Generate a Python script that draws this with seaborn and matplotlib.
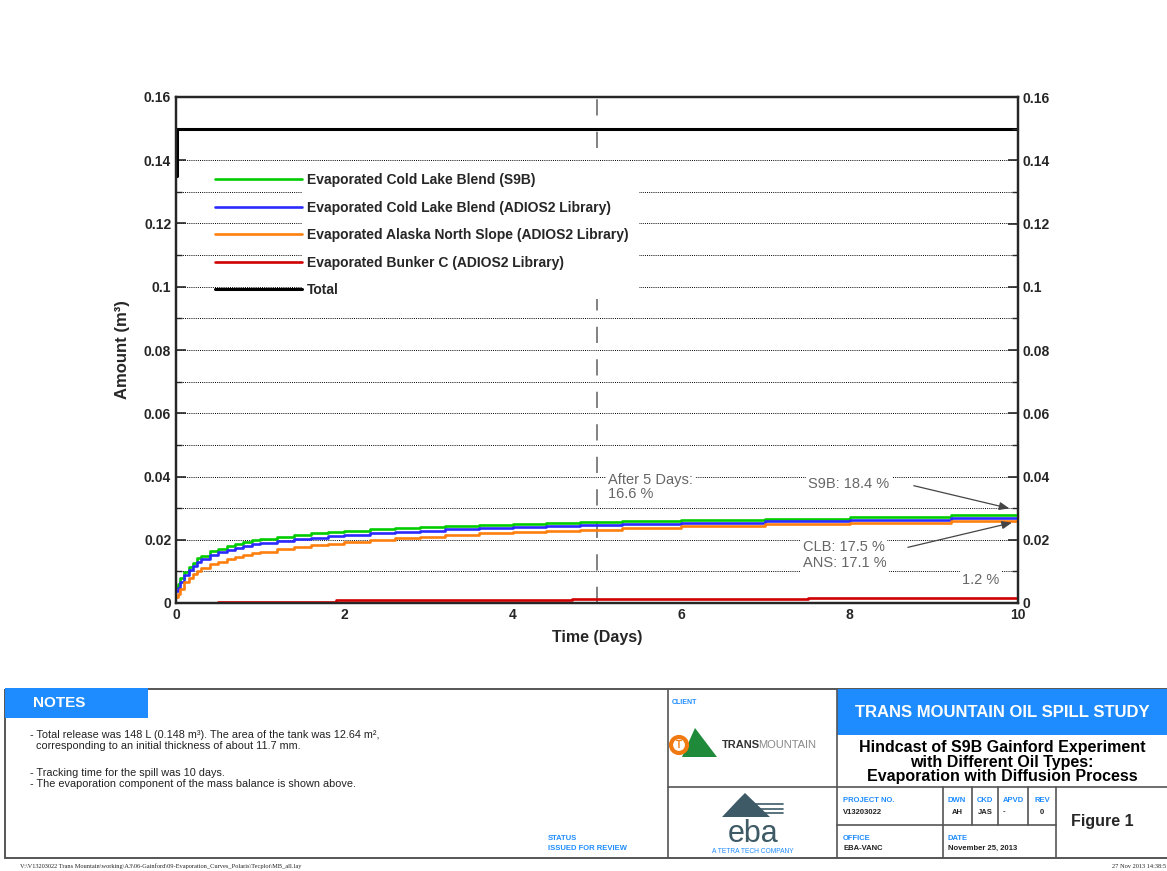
import numpy as np
import pandas as pd
import matplotlib
matplotlib.use("Agg")
import matplotlib.pyplot as plt
import seaborn as sns
from matplotlib.patches import Rectangle, Polygon, Circle
from matplotlib.ticker import FuncFormatter, MultipleLocator

# ---- data (m^3 vs days) ----
time_days = [0, 0.02, 0.05, 0.1, 0.15, 0.2, 0.25, 0.3, 0.4, 0.5, 0.6, 0.7, 0.8,
             0.9, 1.0, 1.2, 1.4, 1.6, 1.8, 2.0, 2.3, 2.6, 2.9, 3.2, 3.6, 4.0,
             4.4, 4.8, 5.3, 6.0, 7.0, 8.0, 9.2, 10.0]
clb_s9b = [0.005, 0.006, 0.0078, 0.0098, 0.0115, 0.0128, 0.0142, 0.015, 0.0163,
           0.0172, 0.018, 0.0187, 0.0193, 0.0198, 0.0202, 0.0209, 0.0215, 0.022,
           0.0224, 0.0228, 0.0233, 0.0237, 0.0241, 0.0244, 0.0248, 0.0251,
           0.0254, 0.0256, 0.0259, 0.0263, 0.0267, 0.0272, 0.0277, 0.0279]
clb_adios = [0.0038, 0.0048, 0.0065, 0.0087, 0.0103, 0.0117, 0.0129, 0.0138,
             0.0151, 0.016, 0.0168, 0.0174, 0.018, 0.0185, 0.0189, 0.0196,
             0.0202, 0.0207, 0.0212, 0.0216, 0.0221, 0.0225, 0.0229, 0.0233,
             0.0237, 0.024, 0.0243, 0.0246, 0.0249, 0.0253, 0.0258, 0.0263,
             0.0268, 0.027]
ans_adios = [0.002, 0.003, 0.0045, 0.0065, 0.008, 0.0092, 0.0102, 0.011, 0.0122,
             0.0131, 0.0139, 0.0146, 0.0152, 0.0157, 0.0162, 0.017, 0.0177,
             0.0183, 0.0188, 0.0192, 0.0199, 0.0205, 0.021, 0.0215, 0.022,
             0.0224, 0.0228, 0.0232, 0.0237, 0.0243, 0.0249, 0.0254, 0.026, 0.0262]
bunker_time = [0, 0.5, 1.9, 4.7, 7.5, 10.0]
bunker_c = [0.0001, 0.0004, 0.0008, 0.0012, 0.0015, 0.0017]
total_time = [0, 0.01, 10.0]
total_amount = [0.135, 0.15, 0.15]

labels = ["Evaporated Cold Lake Blend (S9B)",
          "Evaporated Cold Lake Blend (ADIOS2 Library)",
          "Evaporated Alaska North Slope (ADIOS2 Library)",
          "Evaporated Bunker C (ADIOS2 Library)",
          "Total"]
colors = ["#00cc00", "#2b2bff", "#ff7f0e", "#d00000", "black"]

sns.set_theme(style="white")
plt.rcParams['font.family'] = ['Liberation Sans', 'DejaVu Sans']
plt.rcParams['xtick.direction'] = 'in'
plt.rcParams['ytick.direction'] = 'in'

fig = plt.figure(figsize=(11.67, 8.71), dpi=100)

# background layer in pixel coords for the title block
bg = fig.add_axes([0, 0, 1, 1])
bg.set_xlim(0, 1167)
bg.set_ylim(871, 0)
bg.axis("off")

ax = fig.add_axes([176 / 1167, 1 - 603 / 871, 842 / 1167, 506 / 871])

series = [(time_days, clb_s9b), (time_days, clb_adios), (time_days, ans_adios),
          (bunker_time, bunker_c), (total_time, total_amount)]
for (t, v), lab, col in zip(series, labels, colors):
    df = pd.DataFrame({"t": t, "v": v})
    sns.lineplot(data=df, x="t", y="v", ax=ax, color=col, label=lab,
                 drawstyle="steps-post", estimator=None, sort=False,
                 linewidth=2.2 if col == "black" else 1.9, zorder=3)

ax.set_xlim(0, 10)
ax.set_ylim(0, 0.16)
ax.xaxis.set_major_locator(MultipleLocator(2))
ax.xaxis.set_minor_locator(MultipleLocator(0.5))
ax.yaxis.set_major_locator(MultipleLocator(0.02))
ax.yaxis.set_minor_locator(MultipleLocator(0.01))
fmt = FuncFormatter(lambda v, p: "%g" % round(v, 3))
ax.yaxis.set_major_formatter(fmt)
ax.tick_params(which="major", length=7, width=1.2, labelsize=10)
ax.tick_params(which="minor", length=4, width=1.0)
for lbl in ax.get_xticklabels() + ax.get_yticklabels():
    lbl.set_fontweight("bold")
for s in ax.spines.values():
    s.set_linewidth(1.6)
    s.set_color("black")

# dotted grid every 0.01
for g in np.arange(0.01, 0.155, 0.01):
    ax.axhline(g, color="black", linestyle=(0, (1, 1.2)), linewidth=0.7, zorder=0.5)
ax.axvline(5, color="#777777", linestyle=(0, (9, 9)), linewidth=1.3, zorder=1.2)

# white patch behind legend text
ax.add_patch(Rectangle((0.15, 0.60), 0.40, 0.268, transform=ax.transAxes,
                       facecolor="white", edgecolor="none", zorder=1.5))

ax.set_xlabel("Time (Days)", fontsize=11.5, fontweight="bold", labelpad=6)
ax.set_ylabel("Amount (m³)", fontsize=12, fontweight="bold", labelpad=10)

leg = ax.legend(loc="upper left", bbox_to_anchor=(0.046, 0.85), frameon=False,
                handlelength=6.3, handletextpad=0.35, labelspacing=0.98,
                borderaxespad=0, borderpad=0, prop={"weight": "bold", "size": 10})
leg.set_zorder(5)

ax2 = ax.twinx()
ax2.set_ylim(0, 0.16)
ax2.yaxis.set_major_locator(MultipleLocator(0.02))
ax2.yaxis.set_minor_locator(MultipleLocator(0.01))
ax2.yaxis.set_major_formatter(fmt)
ax2.tick_params(which="major", length=7, width=1.2, labelsize=10)
ax2.tick_params(which="minor", length=4, width=1.0)
for lbl in ax2.get_yticklabels():
    lbl.set_fontweight("bold")
for s in ax2.spines.values():
    s.set_linewidth(1.6)

# annotations
gray = "#666666"
box = dict(facecolor="white", edgecolor="none", pad=1.5)
ax.text(5.13, 0.0412, "After 5 Days:\n16.6 %", fontsize=10.5, color=gray,
        va="top", ha="left", bbox=box, zorder=4, linespacing=1.0)
ax.text(7.51, 0.0376, "S9B: 18.4 %", fontsize=10.5, color=gray, va="center", bbox=box, zorder=4)
ax.text(7.45, 0.0177, "CLB: 17.5 %", fontsize=10.5, color=gray, va="center", bbox=box, zorder=4)
ax.text(7.45, 0.0126, "ANS: 17.1 %", fontsize=10.5, color=gray, va="center", bbox=box, zorder=4)
ax.text(9.33, 0.0073, "1.2 %", fontsize=10.5, color=gray, va="center", bbox=box, zorder=4)
arrow = dict(arrowstyle="-|>,head_length=0.5,head_width=0.2", color="#444444", lw=0.9)
ax.annotate("", xy=(9.93, 0.0297), xytext=(8.73, 0.0373), arrowprops=arrow, zorder=4)
ax.annotate("", xy=(9.96, 0.0256), xytext=(8.66, 0.0174), arrowprops=arrow, zorder=4)

# ---- title block ----
blue = "#1e8cff"
lc = "#555555"
lkw = dict(color=lc, linewidth=1.2)
bg.add_patch(Rectangle((5, 689), 1170, 169, facecolor="none", edgecolor=lc, linewidth=1.4))
bg.add_patch(Rectangle((5, 688), 143, 30, facecolor=blue, edgecolor="none"))
bg.text(33, 703, "NOTES", color="white", fontsize=11, fontweight="bold", va="center")
notes = [(735, "- Total release was 148 L (0.148 m³). The area of the tank was 12.64 m²,"),
         (746, "  corresponding to an initial thickness of about 11.7 mm."),
         (773, "- Tracking time for the spill was 10 days."),
         (784, "- The evaporation component of the mass balance is shown above.")]
for y, s in notes:
    bg.text(30, y, s, fontsize=7.8, color="#222222", va="center")
bg.text(548, 838, "STATUS", fontsize=5.5, color=blue, fontweight="bold", va="center")
bg.text(548, 848, "ISSUED FOR REVIEW", fontsize=5.5, color=blue, fontweight="bold", va="center")

bg.plot([668, 668], [689, 858], **lkw)
bg.plot([837, 837], [689, 858], **lkw)
bg.plot([668, 1167], [787, 787], **lkw)
bg.plot([837, 1056], [825, 825], **lkw)
for xv in [972, 998, 1028]:
    bg.plot([xv, xv], [787, 825], **lkw)
for xv in [943, 1056]:
    bg.plot([xv, xv], [787, 858], **lkw)

bg.add_patch(Rectangle((837, 689), 330, 46, facecolor=blue, edgecolor="none"))
bg.text(1002, 712, "TRANS MOUNTAIN OIL SPILL STUDY", color="white", fontsize=12,
        fontweight="bold", ha="center", va="center")
bg.text(1002, 762, "Hindcast of S9B Gainford Experiment\nwith Different Oil Types:\nEvaporation with Diffusion Process",
        fontsize=11.5, fontweight="bold", ha="center", va="center", linespacing=0.95, color="black")

bg.text(672, 702, "CLIENT", fontsize=5, color=blue, fontweight="bold", va="center")
small = dict(fontsize=5.5, fontweight="bold", va="center")
bg.text(843, 800, "PROJECT NO.", color=blue, **small)
bg.text(843, 812, "V13203022", color="#222222", **small)
for xc, h, v in [(957, "DWN", "AH"), (985, "CKD", "JAS"), (1013, "APVD", "-"), (1042, "REV", "0")]:
    bg.text(xc, 800, h, color=blue, ha="center", **small)
    bg.text(xc if v != "-" else 1004, 812, v, color="#222222", ha="center", **small)
bg.text(843, 838, "OFFICE", color=blue, **small)
bg.text(843, 848, "EBA-VANC", color="#222222", **small)
bg.text(948, 838, "DATE", color=blue, **small)
bg.text(948, 848, "November 25, 2013", color="#222222", **small)
bg.text(1102, 821, "Figure 1", fontsize=11.5, fontweight="bold", ha="center", va="center")

# Trans Mountain logo (simplified)
bg.add_patch(Polygon([[682, 757], [695, 728], [717, 757]], closed=True, facecolor="#1f8a3a", edgecolor="none"))
bg.add_patch(Circle((679, 745), 8, facecolor="white", edgecolor="#f07a10", linewidth=3))
bg.text(679, 745, "T", fontsize=7, fontweight="bold", color="#f07a10", ha="center", va="center")
bg.text(722, 745, "TRANS", fontsize=8, fontweight="bold", color="#333333", va="center")
bg.text(758, 745, "MOUNTAIN", fontsize=8, color="#888888", va="center")

# EBA logo (simplified)
slate = "#3d5a66"
bg.add_patch(Polygon([[722, 817], [738, 800], [745, 793], [770, 817]], closed=True, facecolor=slate, edgecolor="none"))
for yl in [804, 809, 813]:
    bg.plot([752, 783], [yl, yl], color=slate, linewidth=1.2)
bg.text(753, 834, "eba", fontsize=22, color=slate, ha="center", va="center")
bg.text(753, 851, "A TETRA TECH COMPANY", fontsize=4.8, color=blue, ha="center", va="center")

# footer
bg.text(20, 866, "V:\\V13203022 Trans Mountain\\working\\A3\\06-Gainford\\09-Evaporation_Curves_Polaris\\Tecplot\\MB_all.lay",
        fontsize=4.6, family="Liberation Serif", va="center")
bg.text(1166, 866, "27 Nov 2013 14:38:5", fontsize=4.6, family="Liberation Serif", va="center", ha="right")

fig.savefig("out.png", dpi=100)
